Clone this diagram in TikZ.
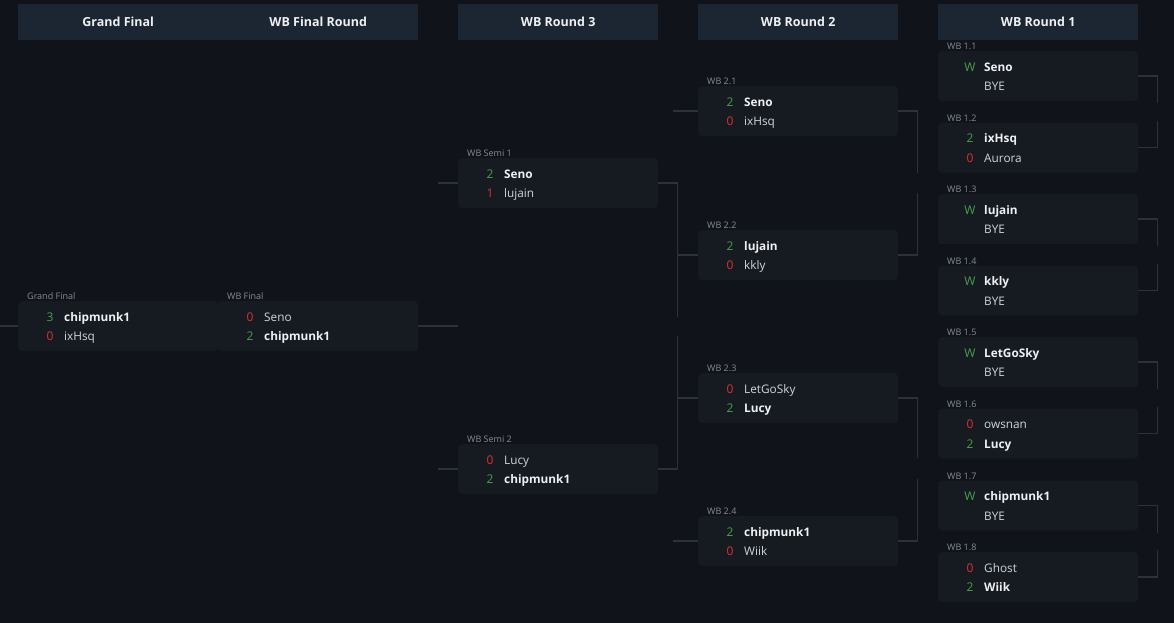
\documentclass[tikz,border=0pt]{standalone}
\usepackage{fontspec}
\setmainfont{Open Sans}
\usetikzlibrary{positioning}

\definecolor{pagebg}{HTML}{10131A}
\definecolor{headbg}{HTML}{1C2532}
\definecolor{boxbg}{HTML}{161A21}
\definecolor{linkc}{HTML}{2C323C}
\definecolor{wingreen}{HTML}{46A24C}
\definecolor{losered}{HTML}{E0302E}
\definecolor{wintext}{HTML}{EEF0F2}
\definecolor{losetext}{HTML}{D2D5DA}
\definecolor{lbltext}{HTML}{868C95}

\tikzset{
  headbar/.style={fill=headbg, minimum width=200pt, minimum height=36pt, inner sep=0pt, anchor=north west, text=wintext, font=\fontsize{12.5}{14}\selectfont\bfseries},
  headtext/.style={inner sep=0pt, text=wintext, font=\fontsize{12.5}{14}\selectfont\bfseries},
  matchbox/.style={fill=boxbg, rounded corners=4pt, minimum width=200pt, minimum height=50pt, inner sep=0pt, anchor=north west},
  matchlbl/.style={anchor=base west, inner sep=0pt, text=lbltext, font=\fontsize{9}{10}\selectfont},
  score/.style={anchor=base, inner sep=0pt, font=\fontsize{12}{13}\selectfont},
  player/.style={anchor=base west, inner sep=0pt, text=losetext, font=\fontsize{11.8}{13}\selectfont},
  link/.style={draw=linkc, line width=1.5pt}
}
\newcommand\wn{\color{wingreen}}
\newcommand\ls{\color{losered}}
\newcommand\best[1]{\textcolor{wintext}{\bfseries #1}}

\newcommand\bmatch[7]{%
  \node[matchbox] (#1) at (#2) {};
  \node[matchlbl] (#1-l) at ([xshift=9pt,yshift=1.5pt]#1.north west) {#3};
  \node[score] (#1-s1) at ([xshift=32pt,yshift=-20pt]#1.north west) {#4};
  \node[player] (#1-p1) at ([xshift=46pt,yshift=-20pt]#1.north west) {#5};
  \node[score] (#1-s2) at ([xshift=32pt,yshift=-39.5pt]#1.north west) {#6};
  \node[player] (#1-p2) at ([xshift=46pt,yshift=-39.5pt]#1.north west) {#7};
}

\begin{document}
\begin{tikzpicture}[x=1pt, y=-1pt]
    \useasboundingbox (0,0) rectangle (1174,622);
    \fill[pagebg] (-2,-2) rectangle (1176,624);

    \node[headbar, minimum width=400pt] (hfinal) at (18,4) {};
    \node[headtext] (hgf) at ([xshift=-100pt]hfinal.center) {Grand Final};
    \node[headtext] (hwf) at ([xshift=100pt]hfinal.center) {WB Final Round};
    \node[headbar] (hr3) at (458,4) {WB Round 3};
    \node[headbar] (hr2) at (698,4) {WB Round 2};
    \node[headbar] (hr1) at (938,4) {WB Round 1};

    \bmatch{gf}{18,301}{Grand Final}{\wn 3}{\best{chipmunk1}}{\ls 0}{ixHsq}
    \bmatch{wf}{218,301}{WB Final}{\ls 0}{Seno}{\wn 2}{\best{chipmunk1}}

    \bmatch{s1}{458,158}{WB Semi 1}{\wn 2}{\best{Seno}}{\ls 1}{lujain}
    \bmatch{s2}{458,444}{WB Semi 2}{\ls 0}{Lucy}{\wn 2}{\best{chipmunk1}}

    \bmatch{m21}{698,86}{WB 2.1}{\wn 2}{\best{Seno}}{\ls 0}{ixHsq}
    \bmatch{m22}{698,230}{WB 2.2}{\wn 2}{\best{lujain}}{\ls 0}{kkly}
    \bmatch{m23}{698,373}{WB 2.3}{\ls 0}{LetGoSky}{\wn 2}{\best{Lucy}}
    \bmatch{m24}{698,516}{WB 2.4}{\wn 2}{\best{chipmunk1}}{\ls 0}{Wiik}

    \bmatch{m11}{938,51}{WB 1.1}{\wn W}{\best{Seno}}{}{BYE}
    \bmatch{m12}{938,122.5}{WB 1.2}{\wn 2}{\best{ixHsq}}{\ls 0}{Aurora}
    \bmatch{m13}{938,194}{WB 1.3}{\wn W}{\best{lujain}}{}{BYE}
    \bmatch{m14}{938,265.5}{WB 1.4}{\wn W}{\best{kkly}}{}{BYE}
    \bmatch{m15}{938,337}{WB 1.5}{\wn W}{\best{LetGoSky}}{}{BYE}
    \bmatch{m16}{938,408.5}{WB 1.6}{\ls 0}{owsnan}{\wn 2}{\best{Lucy}}
    \bmatch{m17}{938,480.5}{WB 1.7}{\wn W}{\best{chipmunk1}}{}{BYE}
    \bmatch{m18}{938,552}{WB 1.8}{\ls 0}{Ghost}{\wn 2}{\best{Wiik}}

    \draw[link] (gf.west) -- ++(-18,0);
    \draw[link] (wf.east) -- ++(40,0);
    \draw[link] (s1.west) -- ++(-20,0);
    \draw[link] (s2.west) -- ++(-20,0);
    \draw[link] (s1.east) -- ++(19,0) -- ++(0,134);
    \draw[link] (s2.east) -- ++(19,0) -- ++(0,-133);

    \draw[link] (m21.west) -- ++(-25,0);
    \draw[link] (m22.west) -- ++(-21,0);
    \draw[link] (m23.west) -- ++(-21,0);
    \draw[link] (m24.west) -- ++(-25,0);
    \draw[link] (m21.east) -- ++(19,0) -- ++(0,62);
    \draw[link] (m22.east) -- ++(19,0) -- ++(0,-62);
    \draw[link] (m23.east) -- ++(19,0) -- ++(0,60);
    \draw[link] (m24.east) -- ++(19,0) -- ++(0,-62);

    \draw[link] (m11.east) -- ++(19,0) -- ++(0,27);
    \draw[link] (m12.east) -- ++(19,0) -- ++(0,-27);
    \draw[link] (m13.east) -- ++(19,0) -- ++(0,27);
    \draw[link] (m14.east) -- ++(19,0) -- ++(0,-27);
    \draw[link] (m15.east) -- ++(19,0) -- ++(0,27);
    \draw[link] (m16.east) -- ++(19,0) -- ++(0,-27);
    \draw[link] (m17.east) -- ++(19,0) -- ++(0,27);
    \draw[link] (m18.east) -- ++(19,0) -- ++(0,-27);
\end{tikzpicture}
\end{document}
